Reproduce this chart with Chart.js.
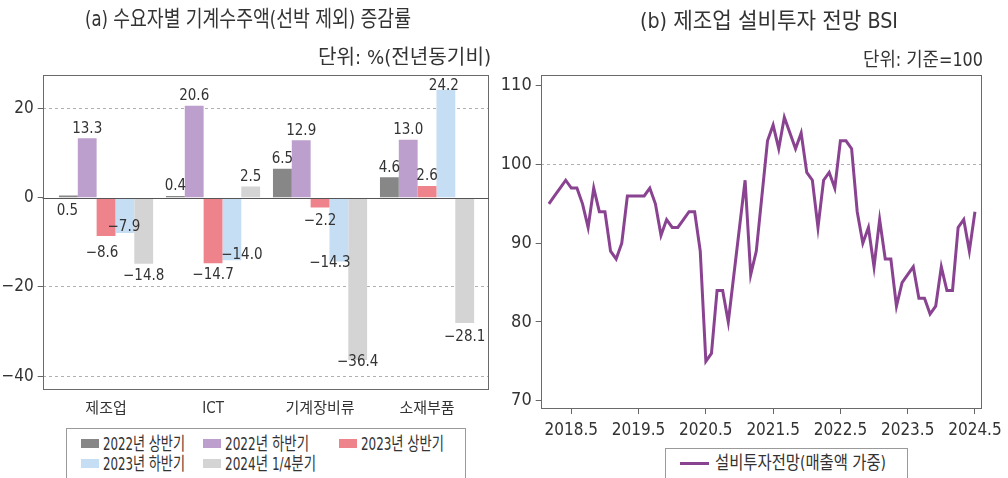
<!DOCTYPE html>
<html><head><meta charset="utf-8">
<script src="https://cdn.jsdelivr.net/npm/chart.js@4"></script>
<style>
html,body{margin:0;padding:0;background:#fff}
body{width:1008px;height:478px;overflow:hidden;position:relative;
  font-family:"Liberation Sans Narrow","DejaVu Sans Condensed","Noto Sans CJK KR",sans-serif;color:#333}
.abs{position:absolute;white-space:nowrap;line-height:1}
#wa{position:absolute;left:0;top:0;width:500px;height:478px}
#wb{position:absolute;left:500px;top:0;width:508px;height:478px}
.box{position:absolute;border:1px solid #9a9a9a;box-sizing:border-box;background:#fff}
.sw{position:absolute}
</style></head><body>
<div id="wa"><canvas id="ca"></canvas></div>
<div id="wb"><canvas id="cb"></canvas></div>

<div class="abs" id="ta" style="font-size:22px">(a) 수요자별 기계수주액(선박 제외) 증감률</div>
<div class="abs" id="tb" style="font-size:22px">(b) 제조업 설비투자 전망 BSI</div>
<div class="abs" id="ua" style="font-size:20px">단위: %(전년동기비)</div>
<div class="abs" id="ub" style="font-size:19px">단위: 기준=100</div>

<div class="box" id="la" style="left:66px;top:428px;width:400px;height:70px"></div>
<div class="box" id="lb" style="left:665px;top:448px;width:243px;height:60px"></div>

<script>
// ---------- data: chart (a) ----------
const categories = ['제조업', 'ICT', '기계장비류', '소재부품'];
const seriesNames = ['2022년 상반기', '2022년 하반기', '2023년 상반기', '2023년 하반기', '2024년 1/4분기'];
const s2022H1 = [0.5, 0.4, 6.5, 4.6];
const s2022H2 = [13.3, 20.6, 12.9, 13.0];
const s2023H1 = [-8.6, -14.7, -2.2, 2.6];
const s2023H2 = [-7.9, -14.0, -14.3, 24.2];
const s2024Q1 = [-14.8, 2.5, -36.4, -28.1];
const yTicksA = [-40, -20, 0, 20];

// ---------- data: chart (b) ----------
const months = [];
for (let y = 2018; y <= 2024; y++) for (let m = 1; m <= 12; m++) { if (y === 2024 && m > 5) break; months.push(y + '.' + m); }
const bsi = [95, 96, 97, 98, 97, 97, 95, 92, 97, 94, 94, 89,
             88, 90, 96, 96, 96, 96, 97, 95, 91, 93, 92, 92,
             93, 94, 94, 89, 75, 76, 84, 84, 80, 86, 92, 98,
             86, 89, 96, 103, 105, 102, 106, 104, 102, 104, 99, 98,
             92, 98, 99, 97, 103, 103, 102, 94, 90, 92, 87, 93,
             88, 88, 82, 85, 86, 87, 83, 83, 81, 82, 87, 84,
             84, 92, 93, 89, 94];
const bsiName = '설비투자전망(매출액 가중)';
const xTickLabels = ['2018.5', '2019.5', '2020.5', '2021.5', '2022.5', '2023.5', '2024.5'];
const yTicksB = [70, 80, 90, 100, 110];

// ---------- styles ----------
const barColors = ['#878787', '#bc9fcc', '#ef838b', '#c6def4', '#d4d4d4'];
const lineColor = '#8a4391';
const FONT = '"Liberation Sans Narrow","DejaVu Sans Condensed","Noto Sans CJK KR",sans-serif';
const TXT = '#333';
// label nudges (dx, dy) in px relative to default placement
const labelNudge = {
  '0,0': [-1, 25], '2,0': [-4, 5], '3,0': [-1, -18],
  '3,1': [10, -17], '3,2': [-9, -10], '4,2': [0, -10],
  '4,3': [0, 2], '2,2': [0, 2], '3,3': [-2, 6]
};

const fmt1 = v => (v < 0 ? '\u2212' : '') + Math.abs(v).toFixed(1);
const fmt0 = v => (v < 0 ? '\u2212' : '') + Math.abs(v);

const framePlugin = {
  id: 'frame',
  beforeDatasetsDraw(chart) {
    const a = chart.chartArea, c = chart.ctx;
    c.save(); c.strokeStyle = '#6a6a6a'; c.lineWidth = 1;
    c.strokeRect(Math.round(a.left) + 0.5, Math.round(a.top) + 0.5,
                 Math.round(a.right - a.left) - 1, Math.round(a.bottom - a.top) - 1);
    c.restore();
  }
};

const barLabelPlugin = {
  id: 'barLabels',
  afterDatasetsDraw(chart) {
    const c = chart.ctx, y = chart.scales.y;
    const z = Math.round(y.getPixelForValue(0)) + 0.5;
    c.save();
    c.strokeStyle = '#555'; c.lineWidth = 1;
    c.beginPath(); c.moveTo(chart.chartArea.left, z); c.lineTo(chart.chartArea.right, z); c.stroke();
    c.font = '15px ' + FONT; c.fillStyle = TXT; c.textAlign = 'center'; c.textBaseline = 'middle';
    chart.data.datasets.forEach((ds, di) => {
      chart.getDatasetMeta(di).data.forEach((el, i) => {
        const v = ds.data[i].y;
        const n = labelNudge[di + ',' + i] || [0, 0];
        const ty = v >= 0 ? el.y - 9.5 : el.y + 12;
        c.fillText(fmt1(v), el.x + n[0], ty + n[1]);
      });
    });
    c.restore();
  }
};

const seriesA = [s2022H1, s2022H2, s2023H1, s2023H2, s2024Q1];

new Chart(document.getElementById('ca'), {
  type: 'bar',
  data: {
    datasets: seriesA.map((s, k) => ({
      label: seriesNames[k],
      data: s.map((v, i) => ({ x: i, y: v })),
      backgroundColor: barColors[k],
      borderWidth: 0,
      categoryPercentage: 0.88,
      barPercentage: 1.0
    }))
  },
  options: {
    responsive: true, maintainAspectRatio: false, animation: false,
    layout: { padding: { top: 75, right: 11, bottom: 58, left: 0 } },
    plugins: { legend: { display: false }, tooltip: { enabled: false } },
    scales: {
      x: {
        type: 'linear', min: -0.592, max: 3.579, offset: false,
        afterBuildTicks: s => { s.ticks = categories.map((c, i) => ({ value: i })); },
        afterFit: s => { s.height = 30; },
        ticks: { callback: v => categories[v], font: { size: 15, family: FONT }, color: TXT, padding: 10, autoSkip: false, maxRotation: 0 },
        grid: { display: false, drawTicks: false, offset: false },
        border: { display: false }
      },
      y: {
        min: -43.1, max: 27.5,
        afterBuildTicks: s => { s.ticks = yTicksA.map(v => ({ value: v })); },
        afterFit: s => { s.width = 42.7; },
        ticks: { callback: v => fmt0(v), font: { size: 17, family: FONT }, color: TXT, padding: 4 },
        grid: {
          color: ctx => (ctx.tick && ctx.tick.value !== 0) ? '#b0b0b0' : 'rgba(0,0,0,0)',
          tickColor: '#666', tickLength: 5, lineWidth: 1
        },
        border: { display: false, dash: [3, 3] }
      }
    }
  },
  plugins: [framePlugin, barLabelPlugin]
});

new Chart(document.getElementById('cb'), {
  type: 'line',
  data: {
    datasets: [{
      label: bsiName,
      data: bsi.map((v, i) => ({ x: i, y: v })),
      borderColor: lineColor, borderWidth: 3, pointRadius: 0, tension: 0, fill: false
    }]
  },
  options: {
    responsive: true, maintainAspectRatio: false, animation: false,
    layout: { padding: { top: 75, right: 20.7, bottom: 34, left: 0 } },
    plugins: { legend: { display: false }, tooltip: { enabled: false } },
    scales: {
      x: {
        type: 'linear', min: -1.46, max: 77.17,
        afterBuildTicks: s => { s.ticks = xTickLabels.map(l => ({ value: months.indexOf(l) })); },
        afterFit: s => { s.height = 35; },
        ticks: { callback: v => months[v], font: { size: 17, family: FONT }, color: TXT, padding: 6, autoSkip: false, maxRotation: 0 },
        grid: { drawOnChartArea: false, tickLength: 5, tickColor: '#666' },
        border: { display: false }
      },
      y: {
        min: 68.95, max: 111.36,
        afterBuildTicks: s => { s.ticks = yTicksB.map(v => ({ value: v })); },
        afterFit: s => { s.width = 40.7; },
        ticks: { callback: v => fmt0(v), font: { size: 18, family: FONT }, color: TXT, padding: 4 },
        grid: {
          color: ctx => (ctx.tick && ctx.tick.value === 100) ? '#b0b0b0' : 'rgba(0,0,0,0)',
          tickColor: '#666', tickLength: 5
        },
        border: { display: false, dash: [3, 3] }
      }
    }
  },
  plugins: [framePlugin]
});

// ---------- HTML text placement ----------
function place(id, target) {
  const el = document.getElementById(id);
  const r = el.getBoundingClientRect();
  const sx = target.w / r.width;
  el.style.transformOrigin = '0 50%';
  el.style.transform = 'scaleX(' + sx + ')';
  el.style.left = target.x + 'px';
  el.style.top = (target.cy - r.height / 2) + 'px';
}
place('ta', { x: 85, w: 326, cy: 19 });
place('tb', { x: 640, w: 258, cy: 21 });
place('ua', { x: 318, w: 173, cy: 57 });
place('ub', { x: 863, w: 120, cy: 59 });

// legend (a)
const legCols = [80.7, 202.7, 339];
const legRows = [443.5, 463.8];
const legW = [82, 84, 83, 82, 91];
seriesNames.forEach((name, k) => {
  const col = k < 3 ? k : k - 3, row = k < 3 ? 0 : 1;
  const sw = document.createElement('div');
  sw.className = 'sw';
  sw.style.cssText = `left:${legCols[col]}px;top:${legRows[row] - 4.5}px;width:18px;height:9px;background:${barColors[k]}`;
  document.body.appendChild(sw);
  const t = document.createElement('div');
  t.className = 'abs'; t.id = 'leg' + k; t.style.fontSize = '18px'; t.textContent = name;
  document.body.appendChild(t);
  place('leg' + k, { x: legCols[col] + 22, w: legW[k], cy: legRows[row] });
});
// legend (b)
const ls = document.createElement('div');
ls.className = 'sw';
ls.style.cssText = `left:680px;top:461.5px;width:29px;height:3px;background:${lineColor}`;
document.body.appendChild(ls);
const lt = document.createElement('div');
lt.className = 'abs'; lt.id = 'legb'; lt.style.fontSize = '18px'; lt.textContent = bsiName;
document.body.appendChild(lt);
place('legb', { x: 715, w: 171, cy: 463 });
</script>
</body></html>
